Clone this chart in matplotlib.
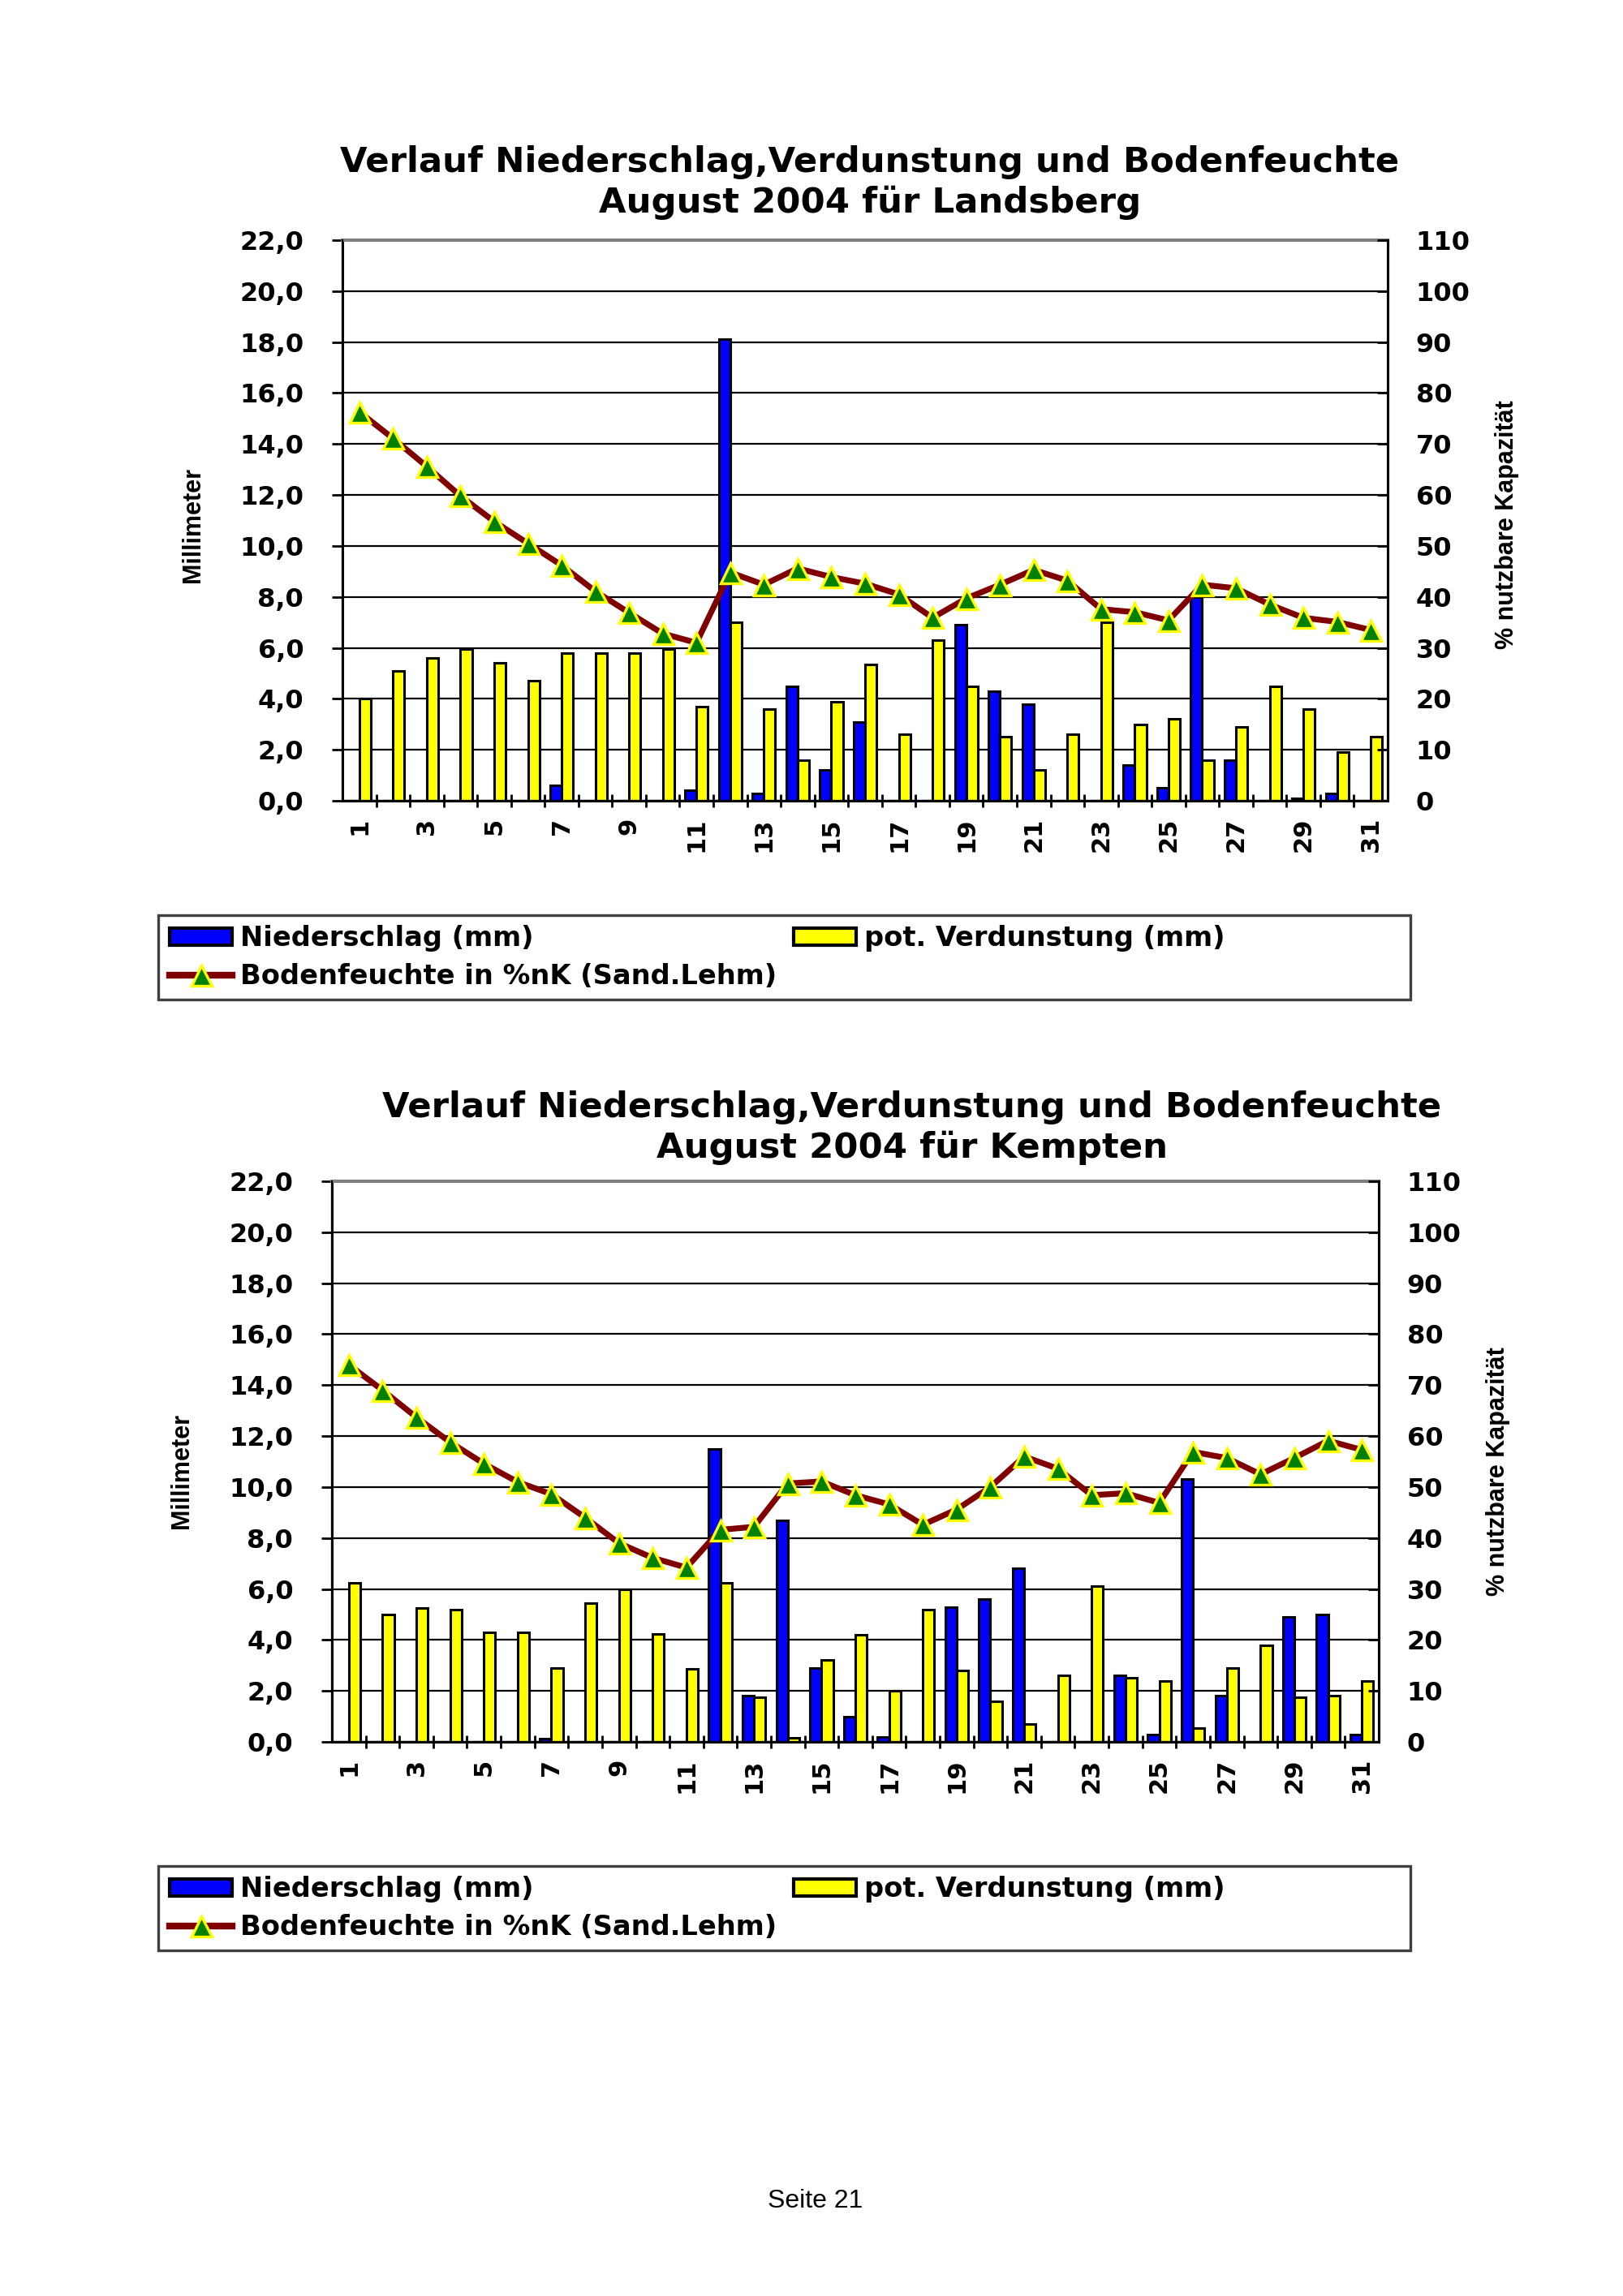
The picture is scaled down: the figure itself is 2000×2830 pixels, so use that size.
import matplotlib
matplotlib.use("Agg")
import matplotlib.pyplot as plt
from matplotlib.patches import Rectangle, Patch
from matplotlib.lines import Line2D
from matplotlib.ticker import FuncFormatter, FixedLocator
import numpy as np

plt.rcParams['font.family'] = ['DejaVu Sans']

days = list(range(1, 32))
tick_days = list(range(1, 32, 2))

lands_nied = [0, 0, 0, 0, 0, 0, 0.6, 0, 0, 0, 0.4, 18.1, 0.3, 4.5, 1.2, 3.1,
              0, 0, 6.9, 4.3, 3.8, 0, 0, 1.4, 0.5, 8.0, 1.6, 0, 0.1, 0.3, 0]
lands_verd = [4.0, 5.1, 5.6, 5.95, 5.4, 4.7, 5.8, 5.8, 5.8, 5.95, 3.7, 7.0, 3.6, 1.6, 3.9, 5.35,
              2.6, 6.3, 4.5, 2.5, 1.2, 2.6, 7.0, 3.0, 3.2, 1.6, 2.9, 4.5, 3.6, 1.9, 2.5]
lands_boden = [76.3, 71.1, 65.6, 59.8, 54.8, 50.5, 46.2, 41.1, 36.9, 32.8, 31.0, 44.8, 42.4, 45.6,
               43.9, 42.6, 40.5, 35.9, 39.7, 42.4, 45.3, 43.2, 37.6, 37.0, 35.4, 42.4, 41.7, 38.5,
               35.9, 35.1, 33.5]

kemp_nied = [0, 0, 0, 0, 0, 0, 0.13, 0, 0, 0, 0, 11.5, 1.8, 8.7, 2.9, 1.0,
             0.2, 0, 5.3, 5.6, 6.8, 0, 0, 2.6, 0.3, 10.3, 1.8, 0, 4.9, 5.0, 0.3]
kemp_verd = [6.25, 5.0, 5.25, 5.2, 4.3, 4.3, 2.9, 5.45, 6.0, 4.25, 2.85, 6.25, 1.75, 0.15, 3.2, 4.2,
             2.0, 5.2, 2.8, 1.6, 0.7, 2.6, 6.1, 2.5, 2.4, 0.55, 2.9, 3.8, 1.75, 1.8, 2.4]
kemp_boden = [74.0, 69.0, 63.7, 58.8, 54.6, 51.0, 48.6, 44.0, 39.0, 36.1, 34.2, 41.6, 42.2, 50.7,
              51.1, 48.4, 46.6, 42.6, 45.6, 50.0, 56.0, 53.6, 48.4, 48.8, 46.9, 56.9, 55.7, 52.5,
              55.7, 59.1, 57.3]

titles = ["Verlauf Niederschlag,Verdunstung und Bodenfeuchte\nAugust 2004 für Landsberg",
          "Verlauf Niederschlag,Verdunstung und Bodenfeuchte\nAugust 2004 für Kempten"]
legend_labels = ["Niederschlag (mm)", "pot. Verdunstung (mm)", "Bodenfeuchte in %nK (Sand.Lehm)"]
left_label = "Millimeter"
right_label = "% nutzbare Kapazität"
footer = "Seite 21"

BLUE = "#0000FF"
YELLOW = "#FFFF00"
MAROON = "#800000"
GREEN = "#008000"

W, H = 2000, 2830
fig = plt.figure(figsize=(10, 14.15), dpi=200)

def fx(px):
    return px / W

def fy(py):
    return 1 - py / H

narrow = ['Liberation Sans', 'DejaVu Sans']

def draw_chart(box, nied, verd, boden, title, title_xy, ylab_x, rlab_x, lab_dy, legbox):
    l, t, r, b = box
    ax = fig.add_axes([fx(l), fy(b), fx(r - l), (b - t) / H])
    x = np.array(days, dtype=float)
    bw = 0.34
    ax.bar(x - bw / 2, nied, width=bw, color=BLUE, edgecolor="black", linewidth=1.1, zorder=3)
    ax.bar(x + bw / 2, verd, width=bw, color=YELLOW, edgecolor="black", linewidth=1.1, zorder=3)
    ax.set_xlim(0.5, 31.5)
    ax.set_ylim(0, 22)
    ax.set_yticks(np.arange(0, 22.1, 2))
    ax.yaxis.set_major_formatter(FuncFormatter(lambda v, p: f"{v:.1f}".replace(".", ",")))
    ax.grid(axis="y", color="black", linewidth=0.8)
    ax.set_axisbelow(True)
    ax.xaxis.set_major_locator(FixedLocator(np.arange(1.5, 31.5, 1)))
    ax.xaxis.set_minor_locator(FixedLocator(tick_days))
    ax.set_xticklabels([], minor=False)
    ax.set_xticks(tick_days, minor=True)
    ax.set_xticklabels([str(d) for d in tick_days], minor=True, rotation=90,
                       fontsize=11, fontweight="bold", va="top", ha="center")
    ax.tick_params(axis="x", which="major", direction="inout", length=6, width=1)
    ax.tick_params(axis="x", which="minor", length=0, pad=7.5)
    ax.tick_params(axis="y", direction="out", length=4.7, width=1, pad=12.5, labelsize=11.5)
    for lab in ax.get_yticklabels():
        lab.set_fontweight("bold")
    ax.spines["top"].set_color("#808080")
    ax.spines["top"].set_linewidth(1.5)
    for s in ["left", "bottom", "right"]:
        ax.spines[s].set_color("black")
        ax.spines[s].set_linewidth(1.1)

    ax2 = ax.twinx()
    ax2.plot(days, boden, color=MAROON, linewidth=2.6, marker="^", markersize=9,
             markerfacecolor=GREEN, markeredgecolor=YELLOW, markeredgewidth=1.2, zorder=5)
    ax2.set_ylim(0, 110)
    ax2.set_yticks(np.arange(0, 111, 10))
    ax2.tick_params(axis="y", direction="in", length=4.7, width=1, pad=12.5, labelsize=11.5)
    for lab in ax2.get_yticklabels():
        lab.set_fontweight("bold")
    ax2.spines["top"].set_visible(False)
    ax2.spines["right"].set_linewidth(1.1)

    fig.text(fx(title_xy[0]), fy(title_xy[1]), title, ha="center", va="center",
             fontsize=15.6, fontweight="bold", linespacing=1.2)
    ymid = (t + b) / 2 + lab_dy
    fig.text(fx(ylab_x), fy(ymid), left_label, rotation=90, ha="center", va="center",
             fontsize=11, fontweight="bold", family=narrow)
    fig.text(fx(rlab_x), fy(ymid), right_label, rotation=90, ha="center", va="center",
             fontsize=11, fontweight="bold", family=narrow)

    lx0, ly0, lx1, ly1 = legbox
    fig.patches.append(Rectangle((fx(lx0), fy(ly1)), fx(lx1 - lx0), (ly1 - ly0) / H,
                                 transform=fig.transFigure, fill=False,
                                 edgecolor="#404040", linewidth=1.2))
    h_n = Patch(facecolor=BLUE, edgecolor="black", linewidth=1.5)
    h_v = Patch(facecolor=YELLOW, edgecolor="black", linewidth=1.5)
    h_b = Line2D([], [], color=MAROON, linewidth=3, marker="^", markersize=9,
                 markerfacecolor=GREEN, markeredgecolor=YELLOW, markeredgewidth=1.2)
    fig.legend([h_n, h_b, h_v], [legend_labels[0], legend_labels[2], legend_labels[1]],
               ncol=2, loc="upper left", bbox_to_anchor=(fx(lx0 + 4), fy(ly0 + 2)),
               frameon=False, prop={"size": 12.1, "weight": "bold"},
               handlelength=2.3, handleheight=0.6, handletextpad=0.3,
               columnspacing=0.6, labelspacing=0.42, borderaxespad=0, borderpad=0.3)
    return ax


draw_chart((422, 296, 1710, 987), lands_nied, lands_verd, lands_boden, titles[0],
           (1072, 225), 238, 1857, 5, (195, 1128, 1738, 1232))
draw_chart((409, 1456, 1699, 2147), kemp_nied, kemp_verd, kemp_boden, titles[1],
           (1124, 1390), 224, 1846, 12, (195, 2300, 1738, 2404))

fig.text(fx(1005), fy(2713), footer, ha="center", va="center", fontsize=11.5,
         family=['Liberation Sans', 'DejaVu Sans'])

fig.savefig("out.png", dpi=200, facecolor="white")
